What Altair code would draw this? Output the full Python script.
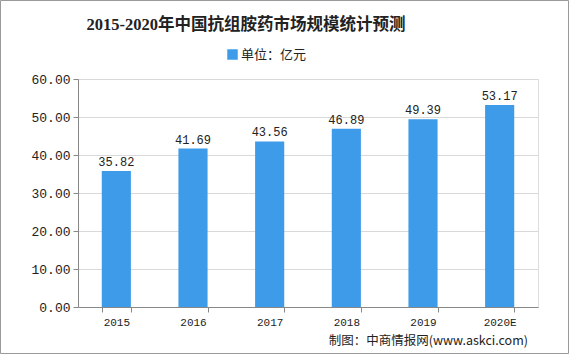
import altair as alt
import pandas as pd

years = ["2015", "2016", "2017", "2018", "2019", "2020E"]
values = [35.82, 41.69, 43.56, 46.89, 49.39, 53.17]
series = ["单位：亿元"] * len(years)
y_ticks = [0, 10, 20, 30, 40, 50, 60]
title_text = "2015-2020年中国抗组胺药市场规模统计预测"
source_text = "制图：中商情报网(www.askci.com)"

df = pd.DataFrame({"year": years, "value": values, "series": series})

W, H = 460, 228
PL, PT, PR, PB = 78, 79, 31, 47

x_axis = alt.Axis(labelAngle=0, labelFont="Liberation Mono", labelFontSize=11,
                  labelColor="#222", domainColor="#888", tickColor="#888",
                  tickBand="extent", tickSize=5, labelPadding=4, grid=False)
y_axis = alt.Axis(values=y_ticks, format=".2f", labelOverlap=False,
                  labelFont="Liberation Mono", labelFontSize=13, labelColor="#222",
                  domainColor="#888", tickColor="#888", tickSize=5, labelPadding=3,
                  gridColor="#d9d9d9")
x_enc = alt.X("year:N", sort=years, title=None,
              scale=alt.Scale(paddingInner=0.62, paddingOuter=0.31), axis=x_axis)
y_enc = alt.Y("value:Q", title=None, scale=alt.Scale(domain=[0, 60]), axis=y_axis)

base = alt.Chart(df)

bars = base.mark_bar(color="#3d9be9").encode(
    x=x_enc, y=y_enc,
    color=alt.Color("series:N", scale=alt.Scale(range=["#3d9be9"]),
                    legend=alt.Legend(orient="none", legendX=148, legendY=-31, title=None,
                                      symbolType="square", symbolSize=110,
                                      symbolStrokeWidth=0, labelFontSize=13,
                                      labelFont="Noto Sans CJK SC", labelColor="#222",
                                      labelOffset=2)),
)

labels = base.mark_text(dy=-9, fontSize=12, font="Liberation Mono", color="#222").encode(
    x=x_enc, y=y_enc,
    text=alt.Text("value:Q", format=".2f"),
)

title = alt.Chart(pd.DataFrame({"t": [title_text]})).mark_text(
    align="center", baseline="alphabetic", fontSize=16.5, fontWeight="bold",
    font="Liberation Serif, Noto Sans CJK SC", color="#222"
).encode(x=alt.value(168), y=alt.value(-49), text="t:N")

src = alt.Chart(pd.DataFrame({"t": [source_text]})).mark_text(
    align="right", baseline="middle", fontSize=12.5, font="Noto Sans CJK SC", color="#222"
).encode(x=alt.value(450), y=alt.value(262), text="t:N")

border = alt.Chart(pd.DataFrame({"a": [0]})).mark_rect(
    fill=None, stroke="#999", strokeWidth=1, clip=False
).encode(x=alt.value(-PL + 0.5), x2=alt.value(W + PR - 0.5),
         y=alt.value(-PT + 0.5), y2=alt.value(H + PB - 0.5))

chart = alt.layer(bars, labels, title, src, border).properties(
    width=W, height=H,
    padding={"left": PL, "top": PT, "right": PR, "bottom": PB},
    autosize=alt.AutoSizeParams(type="none"),
).configure_view(stroke=None).configure(background="white")

chart.save("out.html", embed_options={"renderer": "svg", "actions": False})
